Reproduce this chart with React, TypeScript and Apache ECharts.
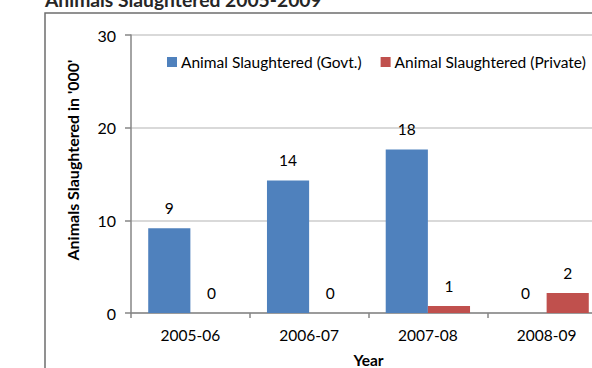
import React, { useEffect, useRef } from "react";
import * as echarts from "echarts";

const categories = ["2005-06", "2006-07", "2007-08", "2008-09"];
const govt = [9.15, 14.3, 17.65, 0];
const privateVals = [0, 0, 0.75, 2.15];
const yTicks = [0, 10, 20, 30];
const yAxisName = "Animals Slaughtered in '000'";

const FONT = "Lato, 'Open Sans', sans-serif";

export default function App() {
  const ref = useRef<HTMLDivElement>(null);
  useEffect(() => {
    if (!ref.current) return;
    const chart = echarts.init(ref.current, undefined, { renderer: "svg" });
    chart.setOption({
      animation: false,
      backgroundColor: "#ffffff",
      textStyle: { fontFamily: FONT },
      title: {
        text: "Animals Slaughtered 2005-2009",
        left: 40,
        top: -15,
        textStyle: { fontFamily: FONT, fontSize: 19.3, fontWeight: "bold", color: "#262626" },
      },
      graphic: [
        {
          type: "rect",
          shape: { x: 45, y: 13, width: 620, height: 420 },
          style: { fill: "none", stroke: "#6e6e6e", lineWidth: 1.5 },
          z: -1,
        },
        {
          type: "text",
          x: 72,
          y: 160,
          rotation: Math.PI / 2,
          style: {
            text: yAxisName,
            font: `bold 16px ${FONT}`,
            fill: "#000",
            textAlign: "center",
            textVerticalAlign: "middle",
          },
        },
      ],
      legend: {
        left: 167,
        top: 54,
        width: 700,
        padding: 0,
        orient: "horizontal",
        itemWidth: 10,
        itemHeight: 10,
        itemGap: 19,
        icon: "rect",
        textStyle: { fontFamily: FONT, fontSize: 15.5, color: "#000", padding: [0, 0, 0, -1] },
      },
      grid: { left: 131, top: 35, width: 475, height: 278, outerBoundsMode: "none", containLabel: false },
      xAxis: {
        type: "category",
        data: categories,
        name: "Year",
        nameLocation: "middle",
        nameGap: 39,
        nameTextStyle: { fontFamily: FONT, fontSize: 15.5, fontWeight: "bold", color: "#000" },
        axisLine: { lineStyle: { color: "#868686", width: 1.5 } },
        axisTick: { show: true, length: 5, lineStyle: { color: "#868686", width: 1.5 } },
        axisLabel: { fontFamily: FONT, fontSize: 15.5, color: "#000", margin: 14 },
      },
      yAxis: {
        type: "value",
        min: yTicks[0],
        max: yTicks[yTicks.length - 1],
        interval: 10,
        axisLine: { show: true, lineStyle: { color: "#868686", width: 1.5 } },
        axisTick: { show: true, length: 6, lineStyle: { color: "#868686", width: 1.5 } },
        axisLabel: { fontFamily: FONT, fontSize: 16, color: "#000", margin: 15 },
        splitLine: { lineStyle: { color: "#d9d9d9", width: 2 } },
      },
      series: [
        {
          name: "Animal Slaughtered (Govt.)",
          type: "bar",
          data: govt,
          barGap: "0%",
          barCategoryGap: "29%",
          itemStyle: { color: "#4f81bd" },
          label: {
            show: true,
            position: "top",
            distance: 12,
            fontFamily: FONT,
            fontSize: 15.5,
            color: "#000",
            formatter: (p: any) => String(Math.round(p.value)),
          },
        },
        {
          name: "Animal Slaughtered (Private)",
          type: "bar",
          data: privateVals,
          itemStyle: { color: "#c0504d" },
          label: {
            show: true,
            position: "top",
            distance: 12,
            fontFamily: FONT,
            fontSize: 15.5,
            color: "#000",
            formatter: (p: any) => String(Math.round(p.value)),
          },
        },
      ],
    });
    return () => chart.dispose();
  }, []);
  return (
    <div
      ref={ref}
      style={{ position: "absolute", left: 0, top: 0, width: 592, height: 368, background: "#fff" }}
    />
  );
}
